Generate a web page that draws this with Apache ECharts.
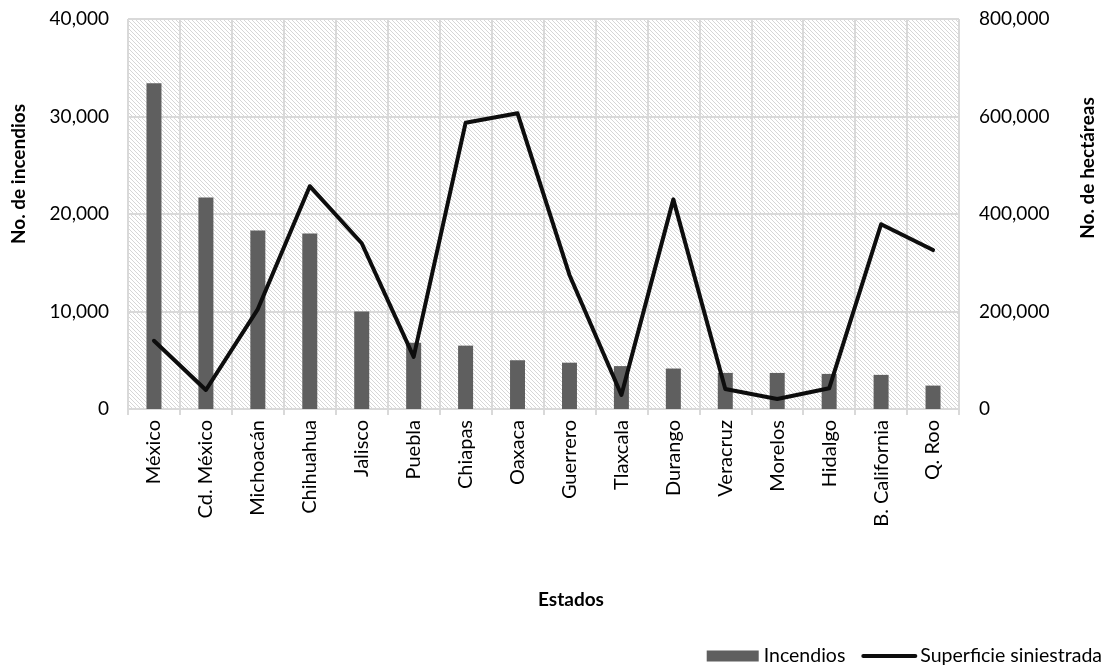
<!DOCTYPE html>
<html>
<head>
<meta charset="utf-8">
<script src="https://cdn.jsdelivr.net/npm/echarts@6/dist/echarts.min.js"></script>
<style>
  html, body { margin: 0; padding: 0; background: #ffffff; }
  #chart { width: 1109px; height: 667px; }
</style>
</head>
<body>
<div id="chart"></div>
<script>
// States and their wildfire figures
const estados = ['México', 'Cd. México', 'Michoacán', 'Chihuahua', 'Jalisco', 'Puebla', 'Chiapas', 'Oaxaca',
  'Guerrero', 'Tlaxcala', 'Durango', 'Veracruz', 'Morelos', 'Hidalgo', 'B. California', 'Q. Roo'];
// Number of fires (left axis)
const incendios = [33400, 21700, 18300, 18000, 10000, 6800, 6500, 5000, 4750, 4400, 4150, 3700, 3700, 3600, 3500, 2400];
// Burned surface in hectares (right axis)
const superficie = [140000, 39000, 205000, 457000, 340000, 107000, 587000, 606500, 275000, 28700, 430000, 41000, 20500, 42500, 379000, 326000];

// Axis ranges
const leftAxis = { min: 0, max: 40000, interval: 10000 };
const rightAxis = { min: 0, max: 800000, interval: 200000 };

const FONT = 'Lato';
const GRID_COLOR = '#d9d9d9';

// Diagonal hatch fill for the plot area
function makeHatch() {
  const c = document.createElement('canvas');
  c.width = 8; c.height = 8;
  const ctx = c.getContext('2d');
  ctx.fillStyle = '#ffffff';
  ctx.fillRect(0, 0, 8, 8);
  ctx.fillStyle = '#d6d6d6';
  for (let y = 0; y < 8; y++) {
    for (let x = 0; x < 8; x++) {
      if (((x - y) % 4 + 4) % 4 === 0) ctx.fillRect(x, y, 1, 1);
    }
  }
  return c;
}

const fmt = v => Number(v).toLocaleString('en-US');

const chart = echarts.init(document.getElementById('chart'), null, { renderer: 'canvas' });

chart.setOption({
  animation: false,
  backgroundColor: '#ffffff',
  textStyle: { fontFamily: FONT },
  grid: {
    left: 128, right: 150, top: 19, bottom: 258,
    show: true,
    borderWidth: 0,
    backgroundColor: { image: makeHatch(), repeat: 'repeat' }
  },
  legend: {
    right: 2, top: 641,
    itemGap: 16,
    itemWidth: 52, itemHeight: 11,
    textStyle: { fontFamily: FONT, fontSize: 19.5, color: '#000' },
    data: [
      { name: 'Incendios', icon: 'rect' },
      { name: 'Superficie siniestrada', itemStyle: { opacity: 0 }, lineStyle: { width: 4, color: '#0d0d0d' } }
    ]
  },
  xAxis: {
    type: 'category',
    data: estados,
    boundaryGap: true,
    axisLine: { show: true, lineStyle: { color: GRID_COLOR, width: 2 } },
    axisTick: { show: true, length: 6, lineStyle: { color: GRID_COLOR, width: 2 } },
    splitLine: { show: true, lineStyle: { color: GRID_COLOR, width: 2 } },
    axisLabel: {
      interval: 0, rotate: 90, margin: 11,
      fontFamily: FONT, fontSize: 20, color: '#000'
    }
  },
  yAxis: [
    {
      type: 'value',
      min: leftAxis.min, max: leftAxis.max, interval: leftAxis.interval,
      axisLine: { show: false },
      axisTick: { show: false },
      splitLine: { show: true, lineStyle: { color: GRID_COLOR, width: 2 } },
      axisLabel: { formatter: fmt, margin: 19, fontFamily: FONT, fontSize: 19, color: '#000' }
    },
    {
      type: 'value',
      min: rightAxis.min, max: rightAxis.max, interval: rightAxis.interval,
      axisLine: { show: false },
      axisTick: { show: false },
      splitLine: { show: false },
      axisLabel: { formatter: fmt, margin: 20, fontFamily: FONT, fontSize: 19, color: '#000' }
    }
  ],
  series: [
    {
      name: 'Incendios',
      type: 'bar',
      yAxisIndex: 0,
      data: incendios,
      barWidth: 15,
      itemStyle: { color: '#5f5f5f' }
    },
    {
      name: 'Superficie siniestrada',
      type: 'line',
      yAxisIndex: 1,
      data: superficie,
      symbol: 'none',
      smooth: false,
      lineStyle: { color: '#0d0d0d', width: 4, join: 'round', cap: 'round' },
      itemStyle: { color: '#0d0d0d' }
    }
  ],
  graphic: [
    {
      type: 'text', x: 19, y: 174, rotation: Math.PI / 2,
      style: { text: 'No. de incendios', fontFamily: FONT, fontWeight: 'bold', fontSize: 19, fill: '#000',
        align: 'center', verticalAlign: 'middle' }
    },
    {
      type: 'text', x: 1088, y: 168, rotation: Math.PI / 2,
      style: { text: 'No. de hectáreas', fontFamily: FONT, fontWeight: 'bold', fontSize: 19, fill: '#000',
        align: 'center', verticalAlign: 'middle' }
    },
    {
      type: 'text', x: 571, y: 600,
      style: { text: 'Estados', fontFamily: FONT, fontWeight: 'bold', fontSize: 19, fill: '#000',
        align: 'center', verticalAlign: 'middle' }
    }
  ]
});
</script>
</body>
</html>
